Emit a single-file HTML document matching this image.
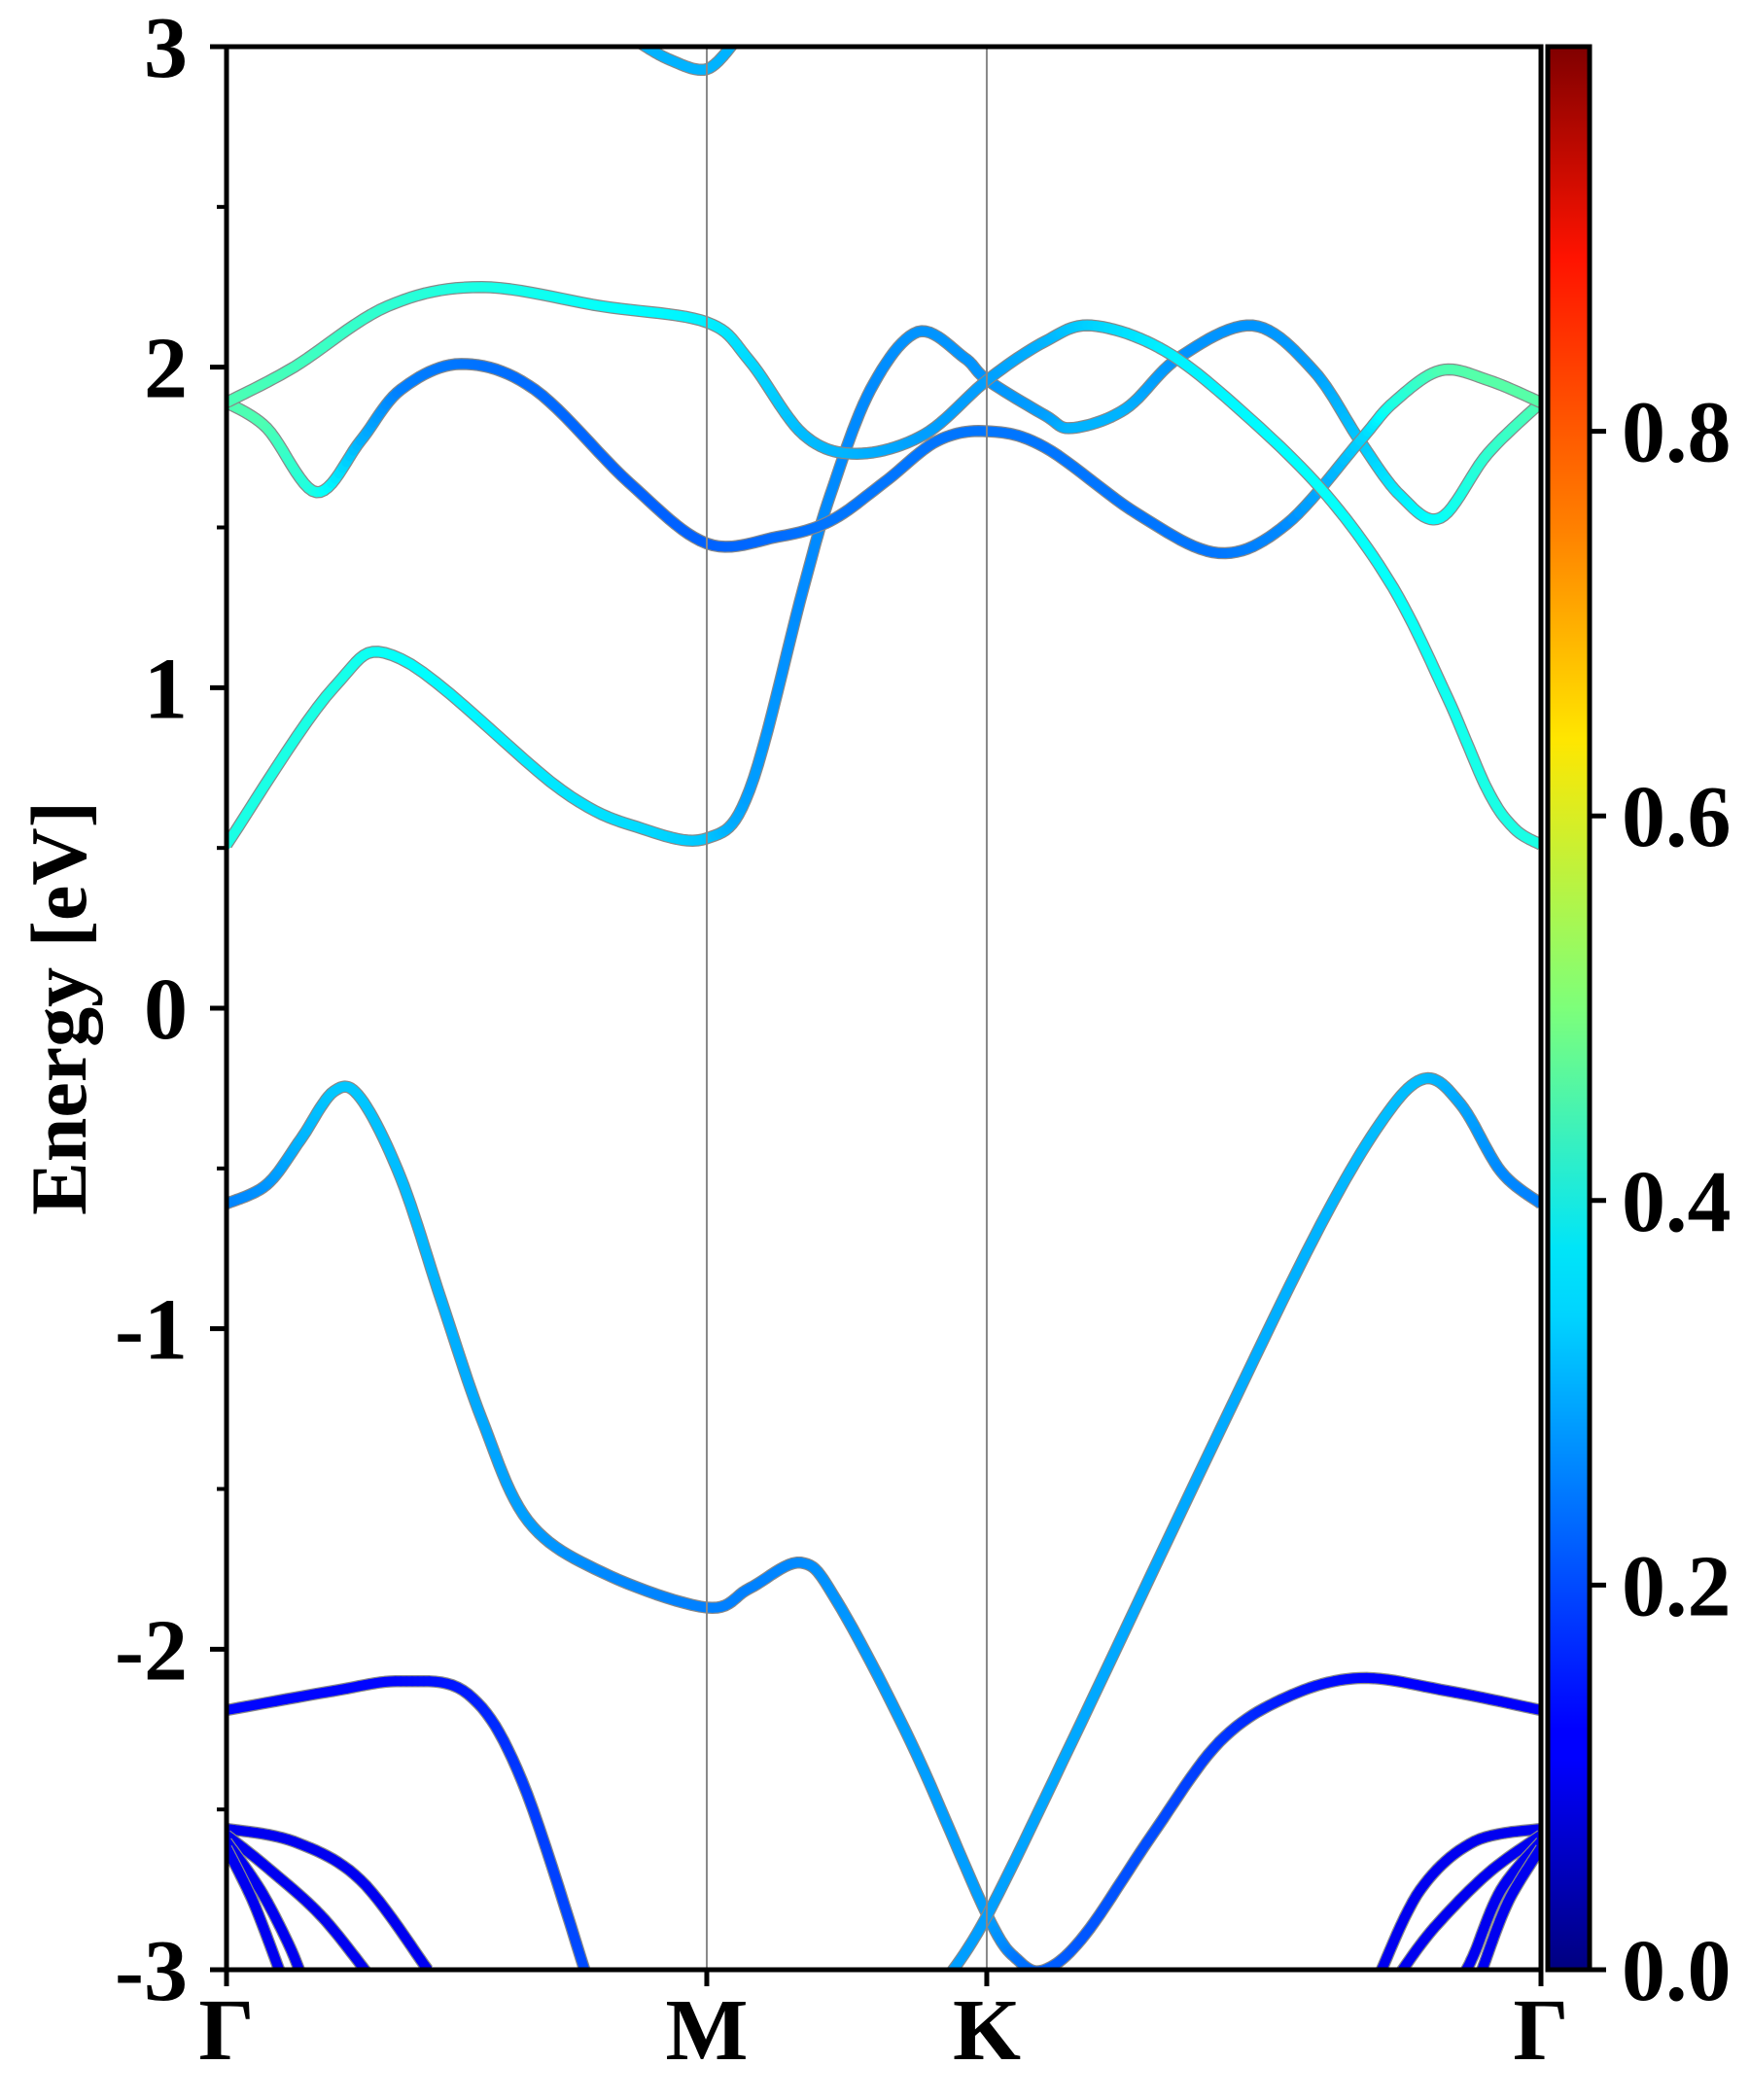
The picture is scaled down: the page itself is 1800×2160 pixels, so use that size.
<!DOCTYPE html>
<html><head><meta charset="utf-8"><style>
html,body{margin:0;padding:0;background:#fff;}
svg{display:block;font-family:"Liberation Serif","Times New Roman",Times,serif;font-weight:bold;}
text{font-family:"Liberation Serif","Times New Roman",Times,serif;font-weight:bold;}
</style></head><body>
<svg id="chart" width="1800" height="2160" viewBox="0 0 1800 2160" xmlns="http://www.w3.org/2000/svg">
<defs>
<clipPath id="plotclip"><rect x="233" y="48" width="1352" height="1978"/></clipPath>
<linearGradient id="jet" x1="0" y1="1" x2="0" y2="0">
<stop offset="0" stop-color="#000080"/><stop offset="0.11" stop-color="#0000ff"/>
<stop offset="0.125" stop-color="#0000ff"/><stop offset="0.34" stop-color="#00d4ff"/>
<stop offset="0.375" stop-color="#00e5f8"/><stop offset="0.5" stop-color="#7dff7a"/>
<stop offset="0.64" stop-color="#ffe600"/><stop offset="0.75" stop-color="#ff8000"/>
<stop offset="0.89" stop-color="#ff1300"/><stop offset="1" stop-color="#800000"/>
</linearGradient>
</defs>
<g id="bands" clip-path="url(#plotclip)"></g>
<g id="axes"></g>
</svg>
<script>
// k-path positions of high-symmetry points
const kLabels = ["Γ","M","K","Γ"];
const kTicks = [0, 1.0, 1.583, 2.737];
const yTicks = [-3,-2,-1,0,1,2,3];
const yMinor = [-2.5,-1.5,-0.5,0.5,1.5,2.5];
const cbTicks = [0.0,0.2,0.4,0.6,0.8];
// bands: k, energy (eV), weight
const b1k=[0,0.223,0.363,0.698,0.866,1.0,1.089,1.201,1.257,1.341,1.439,1.536,1.584,1.704,1.760,1.872,1.983,2.137,2.263,2.360,2.444,2.528,2.626,2.737];
const b1e=[0.51,1.0,1.09,0.68,0.56,0.53,0.68,1.31,1.60,1.93,2.11,2.03,1.96,1.85,1.81,1.87,2.03,2.13,1.99,1.77,1.60,1.53,1.73,1.89];
const b1w=[0.40,0.40,0.38,0.35,0.34,0.32,0.28,0.26,0.26,0.26,0.27,0.27,0.27,0.28,0.30,0.30,0.27,0.27,0.28,0.32,0.36,0.38,0.42,0.45];
const b2k=[0,0.084,0.187,0.279,0.363,0.489,0.642,0.838,1.0,1.145,1.257,1.369,1.480,1.584,1.704,1.899,2.067,2.207,2.360,2.430,2.528,2.626,2.737];
const b2e=[1.89,1.81,1.61,1.77,1.93,2.01,1.93,1.64,1.45,1.47,1.52,1.64,1.77,1.80,1.75,1.54,1.42,1.51,1.77,1.89,1.99,1.96,1.89];
const b2w=[0.45,0.45,0.40,0.30,0.25,0.24,0.23,0.22,0.22,0.23,0.24,0.24,0.24,0.24,0.24,0.24,0.24,0.26,0.33,0.40,0.45,0.46,0.46];
const b3k=[0,0.14,0.335,0.531,0.782,1.0,1.089,1.201,1.313,1.453,1.584,1.704,1.802,1.955,2.123,2.291,2.430,2.542,2.626,2.682,2.737];
const b3e=[1.89,2.0,2.19,2.25,2.19,2.14,2.02,1.79,1.73,1.79,1.96,2.08,2.13,2.05,1.85,1.60,1.31,0.97,0.68,0.56,0.51];
const b3w=[0.45,0.44,0.42,0.40,0.38,0.36,0.34,0.31,0.30,0.28,0.28,0.30,0.33,0.36,0.37,0.38,0.38,0.39,0.40,0.40,0.40];
const b4k=[0.852,0.922,1.0,1.061];
const b4e=[3.02,2.96,2.93,3.02];
const b4w=[0.30,0.30,0.30,0.30];
const v1k=[0,0.084,0.154,0.223,0.279,0.363,0.447,0.531,0.628,0.782,1.0,1.089,1.196,1.271,1.425,1.584,1.648,1.704,1.788,1.927,2.067,2.207,2.360,2.542,2.737];
const v1e=[-0.61,-0.55,-0.41,-0.26,-0.28,-0.53,-0.91,-1.28,-1.60,-1.76,-1.87,-1.81,-1.73,-1.85,-2.29,-2.83,-2.97,-3.0,-2.89,-2.58,-2.29,-2.15,-2.09,-2.13,-2.19];
const v1w=[0.25,0.27,0.30,0.32,0.32,0.31,0.30,0.29,0.28,0.26,0.25,0.25,0.26,0.27,0.28,0.28,0.24,0.22,0.21,0.20,0.18,0.15,0.13,0.12,0.12];
const v2k=[1.494,1.584,1.760,2.039,2.263,2.402,2.494,2.570,2.654,2.737];
const v2e=[-3.04,-2.83,-2.29,-1.41,-0.72,-0.36,-0.22,-0.30,-0.51,-0.61];
const v2w=[0.28,0.28,0.29,0.29,0.30,0.31,0.31,0.29,0.26,0.25];
const v3k=[0,0.223,0.363,0.503,0.615,0.754];
const v3e=[-2.19,-2.13,-2.10,-2.14,-2.41,-3.04];
const v3w=[0.13,0.13,0.13,0.15,0.18,0.20];
const v4k=[0,0.14,0.279,0.419];
const v4e=[-2.56,-2.60,-2.72,-3.0];
const v4w=[0.11,0.11,0.11,0.11];
const v5k=[0,0.084,0.196,0.293];
const v5e=[-2.58,-2.68,-2.83,-3.01];
const v5w=[0.11,0.11,0.11,0.11];
const v6k=[0,0.070,0.126,0.154];
const v6e=[-2.60,-2.75,-2.91,-3.01];
const v6w=[0.11,0.11,0.11,0.11];
const v7k=[0,0.056,0.112];
const v7e=[-2.62,-2.79,-3.01];
const v7w=[0.11,0.11,0.11];
const v8k=[2.737,2.598,2.486,2.402];
const v8e=[-2.56,-2.60,-2.75,-3.01];
const v8w=[0.11,0.11,0.11,0.11];
const v9k=[2.737,2.626,2.514,2.444];
const v9e=[-2.58,-2.70,-2.87,-3.01];
const v9w=[0.11,0.11,0.11,0.11];
const v10k=[2.737,2.654,2.598,2.578];
const v10e=[-2.60,-2.75,-2.95,-3.01];
const v10w=[0.11,0.11,0.11,0.11];
const v11k=[2.737,2.668,2.612];
const v11e=[-2.62,-2.79,-3.01];
const v11w=[0.11,0.11,0.11];

const L=233,R=1585,T=48,B=2026,KMAX=2.737;
const FONT='"Liberation Serif","Times New Roman",Times,serif';
const X=k=>L+(R-L)*k/KMAX;
const Y=e=>T+(B-T)*(3-e)/6;
const NS="http://www.w3.org/2000/svg";
function mk(tag,attrs,parent){const el=document.createElementNS(NS,tag);for(const a in attrs)el.setAttribute(a,attrs[a]);parent.appendChild(el);return el;}
function clip01(v){return Math.max(0,Math.min(1,v));}
function jet(x){const r=clip01(1.5-Math.abs(4*x-3)),g=clip01(1.5-Math.abs(4*x-2)),b=clip01(1.5-Math.abs(4*x-1));return `rgb(${Math.round(r*255)},${Math.round(g*255)},${Math.round(b*255)})`;}
function cr(p0,p1,p2,p3,t){const t2=t*t,t3=t2*t;return 0.5*((2*p1)+(-p0+p2)*t+(2*p0-5*p1+4*p2-p3)*t2+(-p0+3*p1-3*p2+p3)*t3);}
const bandsG=document.getElementById('bands');
const bandList=[[b1k,b1e,b1w],[b2k,b2e,b2w],[b3k,b3e,b3w],[b4k,b4e,b4w],[v1k,v1e,v1w],[v2k,v2e,v2w],[v3k,v3e,v3w],[v4k,v4e,v4w],[v5k,v5e,v5w],[v6k,v6e,v6w],[v7k,v7e,v7w],[v8k,v8e,v8w],[v9k,v9e,v9w],[v10k,v10e,v10w],[v11k,v11e,v11w]];
bandList.forEach((bd,bi)=>{
  const [ks,es,ws]=bd;const n=ks.length;const pts=[];
  for(let i=0;i<n-1;i++){
    const i0=Math.max(0,i-1),i3=Math.min(n-1,i+2);
    for(let s=0;s<12;s++){const t=s/12;
      pts.push([cr(ks[i0],ks[i],ks[i+1],ks[i3],t),cr(es[i0],es[i],es[i+1],es[i3],t),ws[i]+(ws[i+1]-ws[i])*t]);}
  }
  pts.push([ks[n-1],es[n-1],ws[n-1]]);
  const g=mk('g',{},bandsG);
  
  
  mk('polyline',{points:pts.map(p=>X(p[0]).toFixed(1)+','+Y(p[1]).toFixed(1)).join(' '),fill:'none',stroke:'#888',"stroke-width":12.5,"stroke-linejoin":"round"},g);
  for(let i=0;i<pts.length-1;i++){
    const a=pts[i],b=pts[i+1];
    mk('line',{x1:X(a[0]).toFixed(1),y1:Y(a[1]).toFixed(1),x2:X(b[0]).toFixed(1),y2:Y(b[1]).toFixed(1),stroke:jet((a[2]+b[2])/2),"stroke-width":10,"stroke-linecap":"round"},g);
  }
});
const ax=document.getElementById('axes');
kTicks.slice(1,3).forEach(k=>{const l=mk('line',{x1:X(k),x2:X(k),y1:T,y2:B,stroke:'#888',"stroke-width":2},ax);

});
const frame=mk('rect',{x:L,y:T,width:R-L,height:B-T,fill:'none',stroke:'#000',"stroke-width":5},ax);


yTicks.forEach(v=>{mk('line',{x1:L-17,x2:L,y1:Y(v),y2:Y(v),stroke:'#000',"stroke-width":5},ax);
 const t=mk('text',{x:193,y:Y(v)+31,"text-anchor":"end","font-size":90,"font-family":FONT,"font-weight":"bold"},ax);t.textContent=String(v);
 
 });
yMinor.forEach(v=>{mk('line',{x1:L-10,x2:L,y1:Y(v),y2:Y(v),stroke:'#000',"stroke-width":4},ax);});
kTicks.forEach((k,i)=>{mk('line',{x1:X(k),x2:X(k),y1:B,y2:B+17,stroke:'#000',"stroke-width":5},ax);
 const t=mk('text',{x:X(k),y:2118,"text-anchor":"middle","font-size":90,"font-family":FONT,"font-weight":"bold"},ax);t.textContent=kLabels[i];
 
 });
const yl=mk('text',{x:0,y:0,transform:`translate(88,${Y(0)}) rotate(-90)`,"text-anchor":"middle","font-size":82,"font-family":FONT,"font-weight":"bold"},ax);
yl.textContent='Energy [eV]';


const cb=mk('rect',{x:1592,y:T,width:43,height:B-T,fill:'url(#jet)',stroke:'#000',"stroke-width":5},ax);


const CY=v=>B-(B-T)*v/1.0;
cbTicks.forEach(v=>{mk('line',{x1:1635,x2:1652,y1:CY(v),y2:CY(v),stroke:'#000',"stroke-width":5},ax);
 const t=mk('text',{x:1668,y:CY(v)+31,"font-size":90,"font-family":FONT,"font-weight":"bold"},ax);t.textContent=v.toFixed(1);
 
 });
</script>
</body></html>
